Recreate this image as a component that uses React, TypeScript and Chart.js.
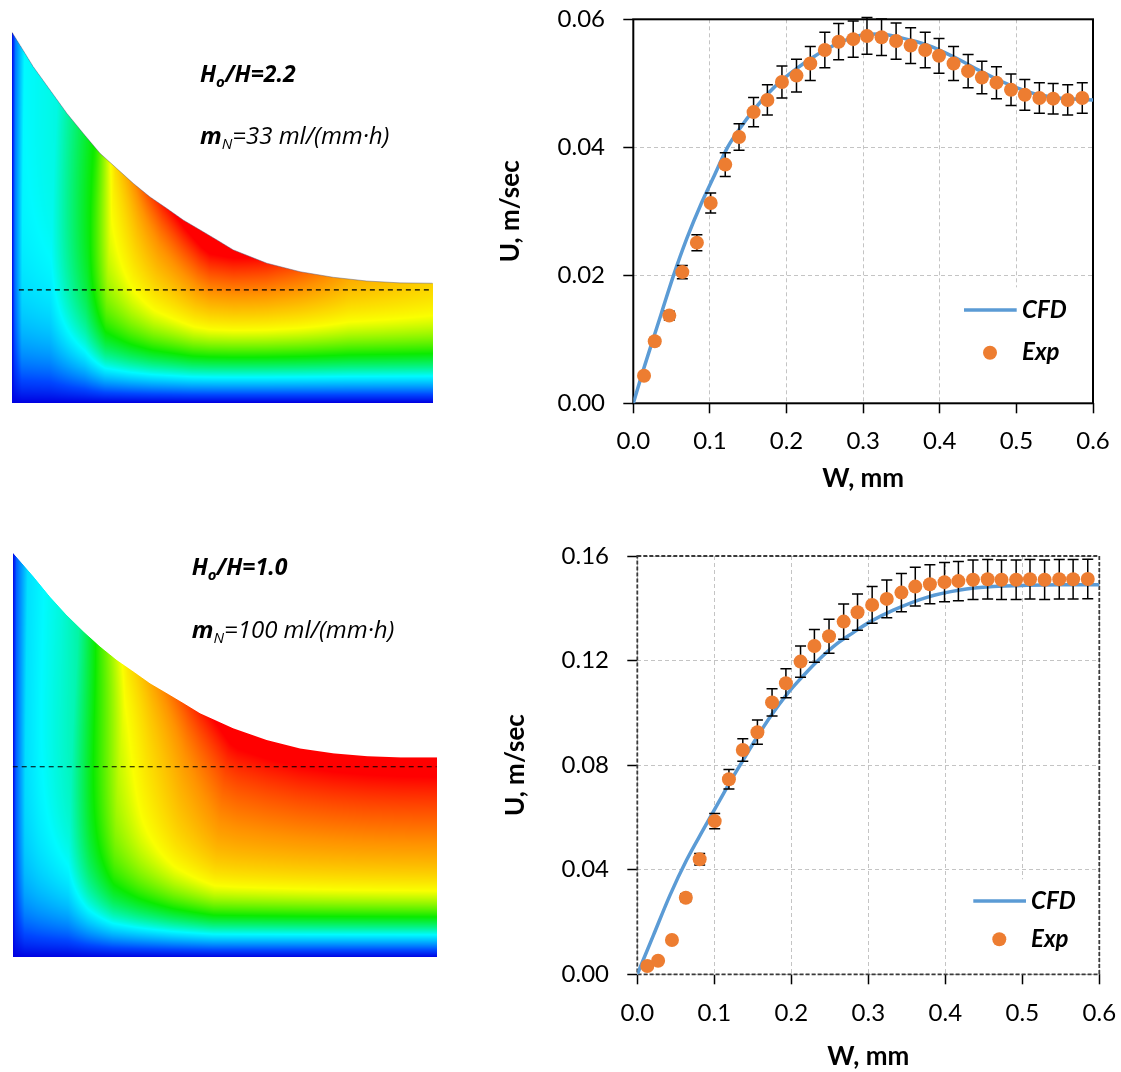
import React, { useEffect, useRef } from 'react';
import { Chart, registerables } from 'chart.js';

Chart.register(...registerables);

const FONT = 'Lato, "Open Sans", "DejaVu Sans", sans-serif';
const NOTE_FONT = '"Open Sans", Lato, sans-serif';
const BLUE = '#5B9BD5';
const ORANGE = '#ED7D31';

// ---------------- Right charts: data ----------------
const X_TICKS = [0, 0.1, 0.2, 0.3, 0.4, 0.5, 0.6];
const Y_TICKS_TOP = [0, 0.02, 0.04, 0.06];
const Y_TICKS_BOTTOM = [0, 0.04, 0.08, 0.12, 0.16];
const ERR_FRACTION = 0.05;

// Top chart (Ho/H = 2.2)
const W_EXP_TOP = [0.014, 0.028, 0.047, 0.064, 0.083, 0.101, 0.120, 0.138, 0.157, 0.175, 0.194, 0.213, 0.231, 0.250, 0.268, 0.287, 0.305, 0.324, 0.343, 0.362, 0.381, 0.399, 0.418, 0.437, 0.455, 0.474, 0.493, 0.511, 0.530, 0.548, 0.567, 0.586];
const U_EXP_TOP = [0.0043, 0.0097, 0.0137, 0.0205, 0.0251, 0.0313, 0.0373, 0.0416, 0.0455, 0.0474, 0.0502, 0.0512, 0.0531, 0.0552, 0.0565, 0.0569, 0.0574, 0.0572, 0.0566, 0.0559, 0.0552, 0.0543, 0.0531, 0.0519, 0.0509, 0.0501, 0.0490, 0.0482, 0.0477, 0.0476, 0.0474, 0.0477];
const W_CFD_TOP = [0, 0.012, 0.025, 0.037, 0.052, 0.07, 0.089, 0.105, 0.123, 0.14, 0.157, 0.175, 0.194, 0.213, 0.231, 0.25, 0.27, 0.29, 0.31, 0.33, 0.35, 0.37, 0.39, 0.41, 0.43, 0.45, 0.47, 0.49, 0.51, 0.53, 0.555, 0.58, 0.6];
const U_CFD_TOP = [0, 0.0048, 0.0097, 0.0142, 0.0198, 0.0258, 0.0313, 0.0354, 0.0400, 0.0431, 0.0458, 0.0483, 0.0505, 0.0523, 0.0538, 0.0552, 0.0564, 0.0573, 0.0577, 0.0576, 0.0571, 0.0565, 0.0557, 0.0546, 0.0534, 0.0521, 0.0509, 0.0498, 0.0489, 0.0482, 0.0477, 0.0475, 0.0474];

// Bottom chart (Ho/H = 1.0)
const W_EXP_BOT = [0.013, 0.027, 0.045, 0.063, 0.081, 0.1005, 0.119, 0.137, 0.156, 0.175, 0.193, 0.212, 0.230, 0.249, 0.268, 0.286, 0.305, 0.324, 0.343, 0.361, 0.380, 0.399, 0.417, 0.436, 0.455, 0.473, 0.492, 0.510, 0.529, 0.548, 0.566, 0.585];
const U_EXP_BOT = [0.0032, 0.0052, 0.0131, 0.0293, 0.0440, 0.0586, 0.0746, 0.0858, 0.0926, 0.1040, 0.1113, 0.1196, 0.1256, 0.1293, 0.1349, 0.1385, 0.1413, 0.1436, 0.1460, 0.1483, 0.1492, 0.1500, 0.1504, 0.1509, 0.1511, 0.1509, 0.1509, 0.1511, 0.1509, 0.1511, 0.1511, 0.1512];
const W_CFD_BOT = [0, 0.021, 0.0425, 0.064, 0.086, 0.107, 0.12, 0.138, 0.155, 0.1745, 0.194, 0.2156, 0.237, 0.259, 0.2805, 0.302, 0.3325, 0.376, 0.419, 0.462, 0.506, 0.549, 0.6];
const U_CFD_BOT = [0, 0.0150, 0.0303, 0.0437, 0.0555, 0.0665, 0.0733, 0.0822, 0.0905, 0.0993, 0.1070, 0.1142, 0.1207, 0.1264, 0.1307, 0.1348, 0.1393, 0.1442, 0.1470, 0.1483, 0.1488, 0.1490, 0.1490];

const X_TITLE = 'W, mm';
const Y_TITLE = 'U, m/sec';
const LEGEND_CFD = 'CFD';
const LEGEND_EXP = 'Exp';

// ---------------- Left panels: contour field shapes ----------------
const SURF_X_TOP = [0, 0.051, 0.091, 0.131, 0.170, 0.210, 0.249, 0.289, 0.328, 0.368, 0.408, 0.447, 0.487, 0.526, 0.606, 0.685, 0.764, 0.843, 0.922, 1.0];
const SURF_Y_TOP = [1.0, 0.906, 0.843, 0.780, 0.726, 0.672, 0.632, 0.591, 0.555, 0.524, 0.492, 0.466, 0.439, 0.412, 0.376, 0.353, 0.338, 0.328, 0.323, 0.322];
const SURF_X_BOT = [0, 0.049, 0.088, 0.127, 0.167, 0.206, 0.245, 0.285, 0.324, 0.363, 0.403, 0.442, 0.520, 0.599, 0.678, 0.757, 0.836, 0.915, 1.0];
const SURF_Y_BOT = [1.0, 0.941, 0.891, 0.846, 0.805, 0.768, 0.735, 0.706, 0.677, 0.653, 0.628, 0.603, 0.566, 0.537, 0.516, 0.504, 0.497, 0.494, 0.494];
const LEVEL_X_TOP = [0, 0.007, 0.024, 0.09, 0.126, 0.173, 0.221, 0.28, 0.333, 0.428, 1];
const LEVEL_V_TOP = [0, 0.18, 0.33, 0.35, 0.42, 0.51, 0.66, 0.72, 0.76, 0.8, 0.8];
const BOOST_X_TOP = [0, 0.2, 0.32, 0.47, 0.63, 0.8, 1];
const BOOST_V_TOP = [0, 0, 0.24, 0.45, 0.25, 0.07, 0];
const LEVEL_X_BOT = [0, 0.007, 0.028, 0.059, 0.13, 0.177, 0.236, 0.295, 0.377, 0.472, 1];
const LEVEL_V_BOT = [0, 0.15, 0.3, 0.33, 0.38, 0.5, 0.62, 0.68, 0.75, 0.81, 0.82];
const BOOST_X_BOT = [0, 0.112, 0.253, 0.395, 0.53, 1];
const BOOST_V_BOT = [0, 0, 0.11, 0.22, 0.33, 0.33];

const JET_STOPS: number[][] = [
  [0, 0, 0, 225],
  [0.12, 0, 70, 255],
  [0.33, 0, 250, 255],
  [0.5, 10, 235, 0],
  [0.66, 250, 255, 0],
  [0.82, 255, 145, 0],
  [1, 255, 0, 0],
];

type Seg = { t: string; font: string; dy?: number };
const LABEL_TOP_1: Seg[] = [
  { t: 'H', font: `italic bold 23px ${NOTE_FONT}` },
  { t: 'o', font: `italic bold 15px ${NOTE_FONT}`, dy: 5 },
  { t: '/H=2.2', font: `italic bold 23px ${NOTE_FONT}` },
];
const LABEL_TOP_2: Seg[] = [
  { t: 'm', font: `italic bold 24px ${NOTE_FONT}` },
  { t: 'N', font: `italic 15px ${NOTE_FONT}`, dy: 5 },
  { t: '=33 ml/(mm·h)', font: `italic 24px ${NOTE_FONT}` },
];
const LABEL_BOT_1: Seg[] = [
  { t: 'H', font: `italic bold 23px ${NOTE_FONT}` },
  { t: 'o', font: `italic bold 15px ${NOTE_FONT}`, dy: 5 },
  { t: '/H=1.0', font: `italic bold 23px ${NOTE_FONT}` },
];
const LABEL_BOT_2: Seg[] = [
  { t: 'm', font: `italic bold 24px ${NOTE_FONT}` },
  { t: 'N', font: `italic 15px ${NOTE_FONT}`, dy: 5 },
  { t: '=100 ml/(mm·h)', font: `italic 24px ${NOTE_FONT}` },
];

// ---------------- helpers ----------------
function interp(xs: number[], ys: number[], x: number): number {
  if (x <= xs[0]) return ys[0];
  const n = xs.length;
  if (x >= xs[n - 1]) return ys[n - 1];
  let i = 1;
  while (xs[i] < x) i++;
  const t = (x - xs[i - 1]) / (xs[i] - xs[i - 1]);
  return ys[i - 1] + t * (ys[i] - ys[i - 1]);
}

function jet(v: number): number[] {
  const c = Math.max(0, Math.min(1, v));
  for (let i = 1; i < JET_STOPS.length; i++) {
    const a = JET_STOPS[i - 1];
    const b = JET_STOPS[i];
    if (c <= b[0]) {
      const t = (c - a[0]) / (b[0] - a[0]);
      return [a[1] + t * (b[1] - a[1]), a[2] + t * (b[2] - a[2]), a[3] + t * (b[3] - a[3])];
    }
  }
  const l = JET_STOPS[JET_STOPS.length - 1];
  return [l[1], l[2], l[3]];
}

function drawRich(ctx: CanvasRenderingContext2D, x: number, y: number, segs: Seg[]) {
  ctx.save();
  ctx.fillStyle = '#000';
  ctx.textAlign = 'left';
  ctx.textBaseline = 'alphabetic';
  let cx = x;
  for (const s of segs) {
    ctx.font = s.font;
    ctx.fillText(s.t, cx, y + (s.dy || 0));
    cx += ctx.measureText(s.t).width;
  }
  ctx.restore();
}

// ---------------- left panel config ----------------
interface FieldSpec {
  surfX: number[];
  surfY: number[];
  lx: number[];
  lv: number[];
  bx: number[];
  bv: number[];
  L: number;
  Ls: number;
  lean: number;
  dashY: number;
  dashX0: number;
  outline: boolean;
  pad: { left: number; top: number; right: number; bottom: number };
  labels: { x: number; y: number; segs: Seg[] }[];
}

function fieldPlugin(spec: FieldSpec) {
  return {
    id: 'fieldPlugin',
    beforeDatasetsDraw(chart: any) {
      const { ctx, chartArea: ca } = chart;
      const xs = chart.scales.x;
      const ys = chart.scales.y;
      const x0 = Math.round(ca.left);
      const y0 = Math.round(ca.top);
      const w = Math.round(ca.right) - x0;
      const h = Math.round(ca.bottom) - y0;
      const off = document.createElement('canvas');
      off.width = w;
      off.height = h;
      const octx = off.getContext('2d')!;
      const img = octx.createImageData(w, h);
      const d = img.data;
      for (let j = 0; j < h; j++) {
        const cy = y0 + j + 0.5;
        const yv = ys.getValueForPixel(cy);
        const leanF = 1 + spec.lean * yv * yv;
        for (let i = 0; i < w; i++) {
          const cx = x0 + i + 0.5;
          const xv = xs.getValueForPixel(cx);
          const hs = interp(spec.surfX, spec.surfY, xv);
          const hsPix = ys.getPixelForValue(hs);
          const a = Math.max(0, Math.min(1, cy - hsPix + 0.5));
          if (a <= 0) continue;
          const depth = Math.max(0, hs - yv);
          const above = Math.max(0, yv);
          const v =
            interp(spec.lx, spec.lv, xv / leanF) *
            (1 - Math.exp(-above / spec.L)) *
            (1 + interp(spec.bx, spec.bv, xv) * Math.exp(-depth / spec.Ls));
          const c = jet(v);
          const k = (j * w + i) * 4;
          d[k] = c[0];
          d[k + 1] = c[1];
          d[k + 2] = c[2];
          d[k + 3] = Math.round(a * 255);
        }
      }
      octx.putImageData(img, 0, 0);
      ctx.drawImage(off, x0, y0);
    },
    afterDatasetsDraw(chart: any) {
      const ctx = chart.ctx;
      for (const l of spec.labels) drawRich(ctx, l.x, l.y, l.segs);
    },
  };
}

function leftConfig(spec: FieldSpec): any {
  const datasets: any[] = [
    {
      data: [
        { x: spec.dashX0, y: spec.dashY },
        { x: 1, y: spec.dashY },
      ],
      showLine: true,
      borderColor: '#000',
      borderWidth: 1.2,
      borderDash: [5, 4],
      pointRadius: 0,
    },
  ];
  if (spec.outline) {
    datasets.push({
      data: spec.surfX.map((x, i) => ({ x, y: spec.surfY[i] })),
      showLine: true,
      borderColor: 'rgba(100,100,130,0.5)',
      borderWidth: 1,
      pointRadius: 0,
    });
  }
  return {
    type: 'scatter',
    data: { datasets },
    options: {
      animation: false,
      responsive: false,
      events: [],
      layout: { padding: spec.pad },
      plugins: { legend: { display: false }, tooltip: { enabled: false } },
      scales: {
        x: { type: 'linear', display: false, min: 0, max: 1 },
        y: { type: 'linear', display: false, min: 0, max: 1 },
      },
    },
    plugins: [fieldPlugin(spec)],
  };
}

// ---------------- right chart config ----------------
interface LegendSpec {
  boxL: number;
  boxT: number;
  lineX1: number;
  lineX2: number;
  lineY: number;
  markX: number;
  markY: number;
  textX: number;
}
interface RightSpec {
  wExp: number[];
  uExp: number[];
  wCfd: number[];
  uCfd: number[];
  yTicks: number[];
  yMax: number;
  pad: { left: number; top: number; right: number; bottom: number };
  yWidth: number;
  xHeight: number;
  yTitlePad: number;
  xTitlePad: number;
  xTickPad: number;
  yTickPad: number;
  dashedFrame: boolean;
  legend: LegendSpec;
}

const errorBarPlugin = {
  id: 'errorBars',
  beforeDatasetDraw(chart: any, args: any) {
    if (args.index !== 0) return;
    const ds = chart.data.datasets[0];
    const { ctx } = chart;
    const xs = chart.scales.x;
    const ys = chart.scales.y;
    ctx.save();
    ctx.strokeStyle = '#000';
    ctx.lineWidth = 1.5;
    for (const p of ds.data) {
      const px = xs.getPixelForValue(p.x);
      const e = p.y * ERR_FRACTION;
      const y1 = ys.getPixelForValue(p.y + e);
      const y2 = ys.getPixelForValue(p.y - e);
      ctx.beginPath();
      ctx.moveTo(px, y1);
      ctx.lineTo(px, y2);
      ctx.moveTo(px - 5.5, y1);
      ctx.lineTo(px + 5.5, y1);
      ctx.moveTo(px - 5.5, y2);
      ctx.lineTo(px + 5.5, y2);
      ctx.stroke();
    }
    ctx.restore();
  },
};

function framePlugin(spec: RightSpec) {
  return {
    id: 'frameLegend',
    beforeDatasetsDraw(chart: any) {
      const { ctx, chartArea: ca } = chart;
      const lg = spec.legend;
      ctx.save();
      ctx.fillStyle = '#fff';
      ctx.fillRect(ca.right + lg.boxL, ca.bottom + lg.boxT, -lg.boxL, -lg.boxT - 1);
      ctx.strokeStyle = spec.dashedFrame ? '#3a3a3a' : '#000';
      ctx.lineWidth = spec.dashedFrame ? 1.8 : 2;
      ctx.setLineDash(spec.dashedFrame ? [4, 2] : []);
      ctx.strokeRect(ca.left, ca.top, ca.right - ca.left, ca.bottom - ca.top);
      ctx.setLineDash([]);
      ctx.strokeStyle = BLUE;
      ctx.lineWidth = 3.5;
      ctx.beginPath();
      ctx.moveTo(ca.right + lg.lineX1, ca.bottom + lg.lineY);
      ctx.lineTo(ca.right + lg.lineX2, ca.bottom + lg.lineY);
      ctx.stroke();
      ctx.fillStyle = ORANGE;
      ctx.beginPath();
      ctx.arc(ca.right + lg.markX, ca.bottom + lg.markY, 7, 0, Math.PI * 2);
      ctx.fill();
      ctx.fillStyle = '#000';
      ctx.font = `italic bold 24px ${FONT}`;
      ctx.textAlign = 'left';
      ctx.textBaseline = 'middle';
      ctx.fillText(LEGEND_CFD, ca.right + lg.textX, ca.bottom + lg.lineY);
      ctx.fillText(LEGEND_EXP, ca.right + lg.textX, ca.bottom + lg.markY);
      ctx.restore();
    },
  };
}

function zeroPadding(axis: any) {
  axis.paddingLeft = 0;
  axis.paddingRight = 0;
  axis.paddingTop = 0;
  axis.paddingBottom = 0;
}

function rightConfig(spec: RightSpec): any {
  const gridCommon = {
    color: '#c4c4c4',
    lineWidth: 1,
    drawTicks: true,
    tickLength: 10,
    tickColor: '#000',
    tickWidth: 1.5,
    tickBorderDash: [],
  };
  return {
    type: 'scatter',
    data: {
      datasets: [
        {
          label: LEGEND_EXP,
          data: spec.wExp.map((x, i) => ({ x, y: spec.uExp[i] })),
          pointRadius: 7,
          pointBackgroundColor: ORANGE,
          pointBorderWidth: 0,
          pointBorderColor: ORANGE,
          showLine: false,
          order: 0,
        },
        {
          label: LEGEND_CFD,
          data: spec.wCfd.map((x, i) => ({ x, y: spec.uCfd[i] })),
          showLine: true,
          borderColor: BLUE,
          borderWidth: 3.5,
          pointRadius: 0,
          cubicInterpolationMode: 'monotone',
          order: 1,
        },
      ],
    },
    options: {
      animation: false,
      responsive: false,
      events: [],
      layout: { padding: spec.pad },
      plugins: { legend: { display: false }, tooltip: { enabled: false } },
      scales: {
        x: {
          type: 'linear',
          min: 0,
          max: 0.6,
          afterBuildTicks: (axis: any) => {
            axis.ticks = X_TICKS.map((value) => ({ value }));
          },
          afterFit: (axis: any) => {
            axis.height = spec.xHeight;
            zeroPadding(axis);
          },
          ticks: {
            autoSkip: false,
            maxRotation: 0,
            padding: spec.xTickPad,
            color: '#000',
            font: { family: FONT, size: 24 },
            callback: (v: any) => Number(v).toFixed(1),
          },
          grid: gridCommon,
          border: { display: false, dash: [4, 3] },
          title: {
            display: true,
            text: X_TITLE,
            color: '#000',
            font: { family: FONT, size: 26, weight: 'bold' },
            padding: { top: 0, bottom: spec.xTitlePad },
          },
        },
        y: {
          type: 'linear',
          min: 0,
          max: spec.yMax,
          afterBuildTicks: (axis: any) => {
            axis.ticks = spec.yTicks.map((value) => ({ value }));
          },
          afterFit: (axis: any) => {
            axis.width = spec.yWidth;
            zeroPadding(axis);
          },
          ticks: {
            autoSkip: false,
            padding: spec.yTickPad,
            color: '#000',
            font: { family: FONT, size: 24 },
            callback: (v: any) => Number(v).toFixed(2),
          },
          grid: gridCommon,
          border: { display: false, dash: [4, 3] },
          title: {
            display: true,
            text: Y_TITLE,
            color: '#000',
            font: { family: FONT, size: 26, weight: 'bold' },
            padding: { top: spec.yTitlePad, bottom: 0 },
          },
        },
      },
    },
    plugins: [errorBarPlugin, framePlugin(spec)],
  };
}

// ---------------- specs ----------------
const TOP_LEFT: FieldSpec = {
  surfX: SURF_X_TOP,
  surfY: SURF_Y_TOP,
  lx: LEVEL_X_TOP,
  lv: LEVEL_V_TOP,
  bx: BOOST_X_TOP,
  bv: BOOST_V_TOP,
  L: 0.135,
  Ls: 0.14,
  lean: 0.3,
  dashY: 0.304,
  dashX0: 0.017,
  outline: true,
  pad: { left: 11.7, top: 31.7, right: 47.3, bottom: 17.3 },
  labels: [
    { x: 200, y: 81.7, segs: LABEL_TOP_1 },
    { x: 200, y: 144, segs: LABEL_TOP_2 },
  ],
};

const BOTTOM_LEFT: FieldSpec = {
  surfX: SURF_X_BOT,
  surfY: SURF_Y_BOT,
  lx: LEVEL_X_BOT,
  lv: LEVEL_V_BOT,
  bx: BOOST_X_BOT,
  bv: BOOST_V_BOT,
  L: 0.111,
  Ls: 0.16,
  lean: 0.3,
  dashY: 0.471,
  dashX0: 0,
  outline: false,
  pad: { left: 12.7, top: 32.7, right: 43.3, bottom: 114.7 },
  labels: [
    { x: 191.7, y: 55, segs: LABEL_BOT_1 },
    { x: 191.7, y: 118.3, segs: LABEL_BOT_2 },
  ],
};

const TOP_RIGHT: RightSpec = {
  wExp: W_EXP_TOP,
  uExp: U_EXP_TOP,
  wCfd: W_CFD_TOP,
  uCfd: U_CFD_TOP,
  yTicks: Y_TICKS_TOP,
  yMax: 0.06,
  pad: { left: 0, top: 19.3, right: 28, bottom: 0 },
  yWidth: 153.3,
  xHeight: 96.7,
  yTitlePad: 15.4,
  xTitlePad: 5.4,
  xTickPad: 14,
  yTickPad: 18.3,
  dashedFrame: false,
  legend: { boxL: -135, boxT: -116, lineX1: -129, lineX2: -76.3, lineY: -93.3, markX: -103, markY: -50.6, textX: -71 },
};

const BOTTOM_RIGHT: RightSpec = {
  wExp: W_EXP_BOT,
  uExp: U_EXP_BOT,
  wCfd: W_CFD_BOT,
  uCfd: U_CFD_BOT,
  yTicks: Y_TICKS_BOTTOM,
  yMax: 0.16,
  pad: { left: 0, top: 36, right: 21.7, bottom: 0 },
  yWidth: 157.3,
  xHeight: 97.7,
  yTitlePad: 20.4,
  xTitlePad: 0,
  xTickPad: 14.6,
  yTickPad: 18.3,
  dashedFrame: true,
  legend: { boxL: -132, boxT: -95, lineX1: -126, lineX2: -73.3, lineY: -73.3, markX: -100, markY: -35, textX: -68.3 },
};

// ---------------- components ----------------
function ChartCanvas(props: { left: number; top: number; width: number; height: number; make: () => any }) {
  const ref = useRef<HTMLCanvasElement>(null);
  useEffect(() => {
    const chart = new Chart(ref.current as HTMLCanvasElement, props.make());
    return () => chart.destroy();
  }, []);
  return (
    <canvas
      ref={ref}
      width={props.width}
      height={props.height}
      style={{ position: 'absolute', left: props.left, top: props.top, width: props.width, height: props.height }}
    />
  );
}

export default function App() {
  return (
    <div style={{ position: 'absolute', left: 0, top: 0, width: 1121, height: 1072, background: '#fff', overflow: 'hidden' }}>
      <ChartCanvas left={0} top={0} width={480} height={420} make={() => leftConfig(TOP_LEFT)} />
      <ChartCanvas left={480} top={0} width={641} height={500} make={() => rightConfig(TOP_RIGHT)} />
      <ChartCanvas left={0} top={520} width={480} height={552} make={() => leftConfig(BOTTOM_LEFT)} />
      <ChartCanvas left={480} top={520} width={641} height={552} make={() => rightConfig(BOTTOM_RIGHT)} />
    </div>
  );
}
